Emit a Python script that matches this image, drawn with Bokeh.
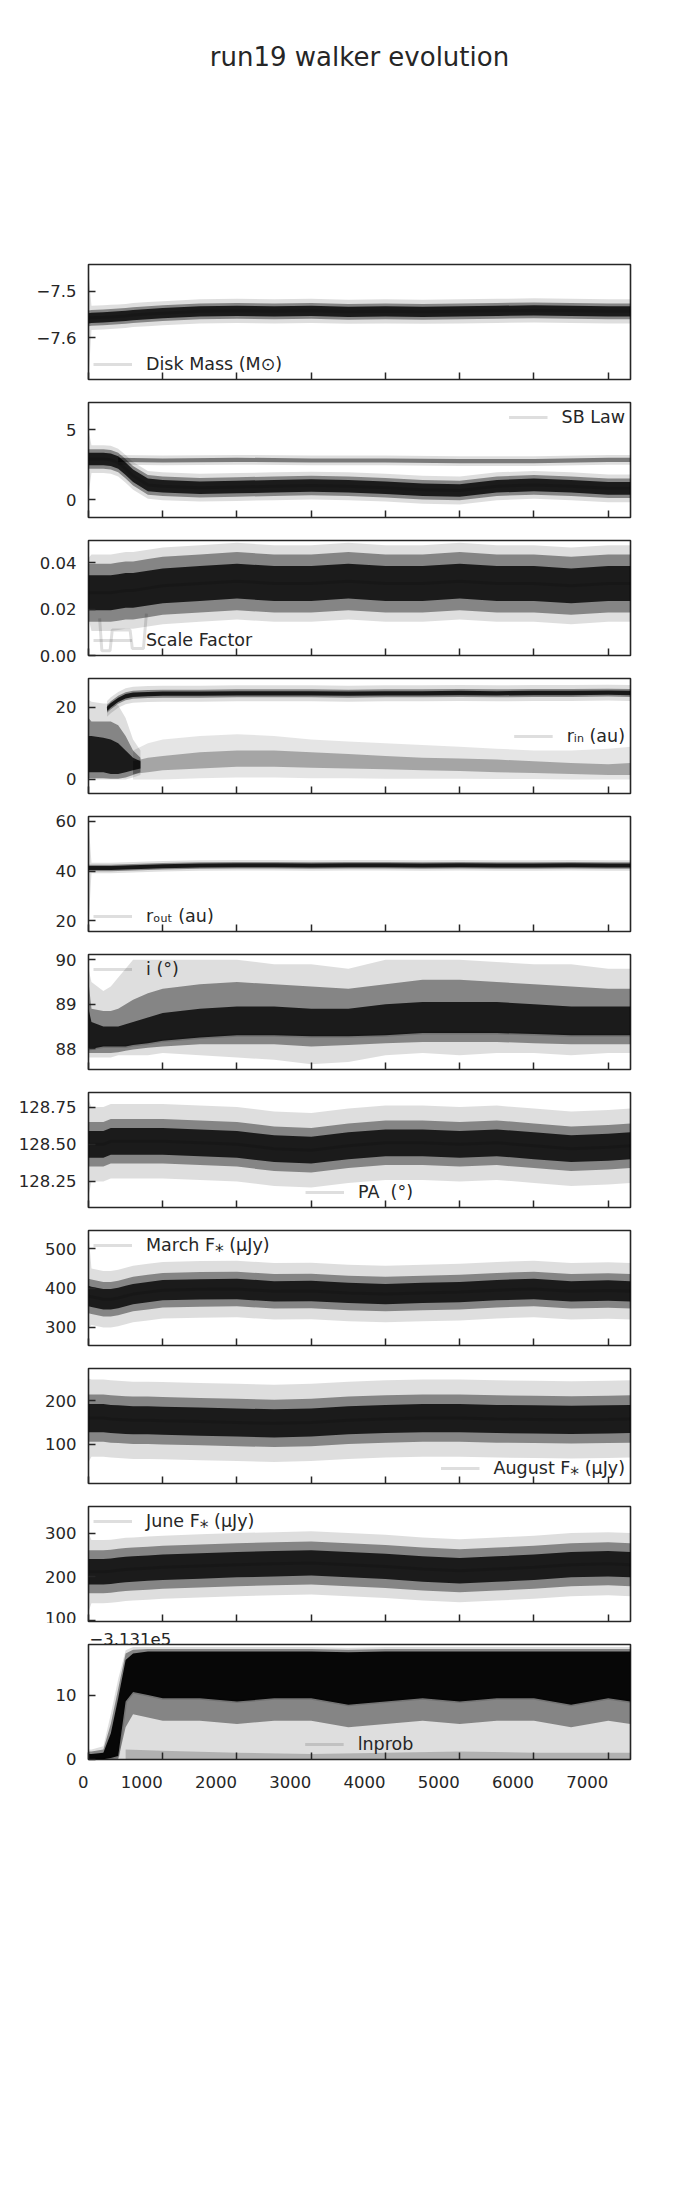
from bokeh.plotting import figure
from bokeh.models import Range1d, FixedTicker, Legend, LegendItem
from bokeh.layouts import column
from bokeh.embed import file_html
from bokeh.resources import INLINE

# ---------------- data ----------------
TITLE = "run19 walker evolution"
STEPS = [0, 40, 200, 300, 400, 500, 600, 800, 1000, 1500, 2000, 2500,
         3000, 3500, 4000, 4500, 5000, 5500, 6000, 6500, 7000, 7300]
X_TICKS = [0, 1000, 2000, 3000, 4000, 5000, 6000, 7000]
X_END = 7300

# Disk mass
DISK_LABEL = "Disk Mass (M\u2299)"
DISK_YLIM = [-7.690, -7.442]
DISK_TICKS = [-7.6, -7.5]
DISK_TICK_LABELS = ["\u22127.6", "\u22127.5"]
DISK_MID = [-7.558, -7.557, -7.556, -7.555, -7.554, -7.553, -7.551, -7.549, -7.547, -7.543, -7.542,
            -7.543, -7.542, -7.544, -7.543, -7.544, -7.543, -7.542, -7.541, -7.542, -7.543, -7.543]
DISK_HALF = [0.011, 0.017, 0.026]
DISK_INIT = [-7.69, -7.46]

# SB law (two groups)
SB_LABEL = "SB Law"
SB_YLIM = [-1.29, 6.96]
SB_TICKS = [0, 5]
SB_TICK_LABELS = ["0", "5"]
SB_B_MID = [2.9, 2.9, 2.9, 2.85, 2.65, 2.2, 1.7, 1.05, 0.95, 0.85, 0.9, 0.95,
            1.0, 0.95, 0.85, 0.7, 0.65, 0.95, 1.05, 0.95, 0.8, 0.8]
SB_B_HALF = [0.45, 0.7, 1.0]
SB_INIT = [0.3, 5.0]
SB_A_STEPS = [400, 1000, 2000, 3000, 4000, 5000, 6000, 7000, 7300]
SB_A_MID = [2.85, 2.8, 2.85, 2.8, 2.8, 2.75, 2.75, 2.85, 2.85]
SB_A_HALF = [0.15, 0.35]

# Scale factor
SCALE_LABEL = "Scale Factor"
SCALE_YLIM = [0.0, 0.0495]
SCALE_TICKS = [0.0, 0.02, 0.04]
SCALE_TICK_LABELS = ["0.00", "0.02", "0.04"]
SCALE_MID = [0.027, 0.027, 0.027, 0.027, 0.0275, 0.028, 0.028, 0.029, 0.030, 0.031, 0.032,
             0.031, 0.031, 0.032, 0.031, 0.031, 0.032, 0.031, 0.031, 0.030, 0.031, 0.031]
SCALE_HALF = [0.0075, 0.0125, 0.0165]
SCALE_INIT = [0.016, 0.042]
SCALE_OUT_STEPS = [150, 180, 290, 320, 560, 590, 740, 780]
SCALE_OUT = [0.016, 0.002, 0.002, 0.011, 0.011, 0.003, 0.003, 0.018]

# r_in (early blob, upper group, lower group)
RIN_LABEL = "r\u1d62\u2099 (au)"
RIN_YLIM = [-3.9, 27.9]
RIN_TICKS = [0, 20]
RIN_TICK_LABELS = ["0", "20"]
RIN_E_STEPS = [0, 40, 200, 300, 400, 500, 600, 700]
RIN_E_CORE_LO = [2, 2, 2, 1.5, 1.5, 2, 2.5, 3]
RIN_E_CORE_HI = [12, 12, 11.5, 11, 10, 8, 6, 5]
RIN_E_MID_LO = [0.3, 0.3, 0.3, 0.2, 0.2, 0.5, 1.2, 2]
RIN_E_MID_HI = [17, 16, 16, 16, 15, 12, 8, 6]
RIN_E_OUT_LO = [0, 0, 0, 0, 0, 0, 0.5, 1.2]
RIN_E_OUT_HI = [22, 21.5, 21, 21, 20.5, 17, 11, 8]
RIN_U_STEPS = [250, 300, 400, 500, 600, 800, 1000, 1500, 2000, 2500, 3000,
               3500, 4000, 4500, 5000, 5500, 6000, 6500, 7000, 7300]
RIN_U_MID = [19.5, 20.5, 22.0, 23.0, 23.4, 23.6, 23.7, 23.7, 23.8, 23.8, 23.8,
             23.7, 23.8, 23.8, 23.9, 23.8, 23.9, 23.9, 24.0, 23.9]
RIN_U_HALF = [0.6, 1.1, 2.2]
RIN_L_STEPS = [600, 800, 1000, 1500, 2000, 2500, 3000, 3500, 4000, 4500, 5000,
               5500, 6000, 6500, 7000, 7300]
RIN_L_CORE_LO = [1.5, 2, 2.5, 3, 3.5, 3.5, 3.2, 3, 2.8, 2.5, 2.3, 2, 1.8, 1.5, 1.2, 1.2]
RIN_L_CORE_HI = [5, 6, 6.5, 7.5, 8, 8, 7.5, 7, 6.5, 6, 5.8, 5.5, 5, 4.5, 4.2, 4.5]
RIN_L_OUT_LO = [0, 0, 0, 0.3, 0.5, 0.5, 0.3, 0.3, 0.2, 0.2, 0.2, 0.1, 0.1, 0, 0, 0]
RIN_L_OUT_HI = [8, 10, 11, 12, 12.5, 12, 11, 10.5, 10, 9.5, 9, 8.5, 8, 8, 8.5, 9]

# r_out
ROUT_LABEL = "r\u2092\u1d64\u209c (au)"
ROUT_YLIM = [15.7, 62.0]
ROUT_TICKS = [20, 40, 60]
ROUT_TICK_LABELS = ["20", "40", "60"]
ROUT_MID = [41.3, 41.3, 41.3, 41.3, 41.4, 41.5, 41.6, 41.8, 42.0, 42.3, 42.4,
            42.4, 42.3, 42.4, 42.4, 42.3, 42.4, 42.3, 42.3, 42.4, 42.3, 42.3]
ROUT_HALF = [0.8, 1.3, 2.1]
ROUT_INIT = [18, 60]

# inclination
INC_LABEL = "i (\u00b0)"
INC_YLIM = [87.53, 90.12]
INC_TICKS = [88, 89, 90]
INC_TICK_LABELS = ["88", "89", "90"]
INC_CORE_LO = [88.0, 88.0, 88.05, 88.05, 88.05, 88.05, 88.08, 88.12, 88.18, 88.25, 88.3,
               88.3, 88.28, 88.28, 88.3, 88.35, 88.35, 88.35, 88.33, 88.3, 88.3, 88.3]
INC_CORE_HI = [88.9, 88.6, 88.5, 88.5, 88.5, 88.55, 88.6, 88.7, 88.8, 88.9, 88.95,
               88.95, 88.9, 88.9, 89.0, 89.05, 89.05, 89.05, 89.0, 88.95, 88.95, 88.95]
INC_MID_LO = [87.9, 87.9, 87.9, 87.9, 87.92, 87.95, 87.98, 88.02, 88.05, 88.1, 88.1,
              88.1, 88.05, 88.08, 88.12, 88.15, 88.15, 88.15, 88.12, 88.1, 88.1, 88.1]
INC_MID_HI = [89.5, 88.9, 88.85, 88.85, 88.9, 89.0, 89.1, 89.25, 89.35, 89.45, 89.5,
              89.45, 89.4, 89.35, 89.45, 89.55, 89.55, 89.5, 89.45, 89.4, 89.35, 89.35]
INC_OUT_LO = [87.8, 87.8, 87.8, 87.8, 87.85, 87.85, 87.85, 87.85, 87.9, 87.85, 87.8,
              87.75, 87.65, 87.7, 87.85, 87.9, 87.85, 87.9, 87.9, 87.85, 87.9, 87.9]
INC_OUT_HI = [89.8, 89.5, 89.3, 89.4, 89.6, 89.8, 90.0, 90.0, 90.0, 90.0, 90.0,
              89.9, 89.9, 89.8, 90.0, 90.0, 90.0, 89.95, 89.9, 89.9, 89.8, 89.8]

# position angle
PA_LABEL = "PA  (\u00b0)"
PA_YLIM = [128.075, 128.848]
PA_TICKS = [128.25, 128.5, 128.75]
PA_TICK_LABELS = ["128.25", "128.50", "128.75"]
PA_MID = [128.50, 128.50, 128.50, 128.52, 128.52, 128.52, 128.52, 128.52, 128.52, 128.51, 128.50,
          128.47, 128.46, 128.49, 128.51, 128.51, 128.50, 128.51, 128.49, 128.47, 128.48, 128.49]
PA_HALF = [0.09, 0.15, 0.25]
PA_INIT = [128.15, 128.8]

# stellar fluxes
MAR_LABEL = "March F\u204e (\u03bcJy)"
MAR_YLIM = [254.0, 547.0]
MAR_TICKS = [300, 400, 500]
MAR_TICK_LABELS = ["300", "400", "500"]
MAR_MID = [380, 378, 372, 372, 375, 380, 385, 390, 395, 397, 398,
           392, 393, 388, 385, 388, 390, 395, 398, 392, 394, 392]
MAR_HALF = [26, 44, 72]
MAR_INIT = [300, 540]

AUG_LABEL = "August F\u204e (\u03bcJy)"
AUG_YLIM = [11.0, 273.0]
AUG_TICKS = [100, 200]
AUG_TICK_LABELS = ["100", "200"]
AUG_MID = [160, 160, 160, 158, 157, 156, 155, 155, 154, 152, 150,
           148, 150, 155, 158, 160, 160, 158, 157, 156, 157, 158]
AUG_HALF = [32, 54, 88]
AUG_INIT = [60, 250]

JUN_LABEL = "June F\u204e (\u03bcJy)"
JUN_YLIM = [98.4, 360.5]
JUN_TICKS = [100, 200, 300]
JUN_TICK_LABELS = ["100", "200", "300"]
JUN_MID = [212, 212, 212, 213, 215, 217, 218, 220, 222, 225, 228,
           230, 232, 228, 224, 218, 214, 218, 222, 228, 230, 228]
JUN_HALF = [29, 49, 72]
JUN_INIT = [120, 300]

# ln probability, relative to the offset -3.131e5
LN_LABEL = "lnprob"
LN_OFFSET_TEXT = "\u22123.131e5"
LN_YLIM = [-0.05, 17.9]
LN_TICKS = [0, 10]
LN_TICK_LABELS = ["0", "10"]
LN_CORE_LO = [0.0, 0.0, 0.0, 0.2, 0.5, 9.0, 10.5, 10.0, 9.5, 9.5, 9.0,
              9.5, 9.5, 8.5, 9.0, 9.5, 9.0, 9.5, 9.5, 8.5, 9.5, 9.0]
LN_CORE_HI = [0.8, 0.8, 1.0, 4.0, 9.5, 15.5, 16.5, 16.8, 16.8, 16.8, 16.8,
              16.8, 16.8, 16.7, 16.8, 16.8, 16.8, 16.8, 16.8, 16.8, 16.8, 16.8]
LN_MID_LO = [0.0, 0.0, 0.0, 0.0, 0.0, 5.0, 7.0, 6.5, 6.0, 6.0, 5.5,
             6.0, 6.0, 5.0, 5.5, 6.0, 5.5, 6.0, 6.0, 5.0, 6.0, 5.5]
LN_MID_HI = [1.2, 1.2, 1.5, 5.5, 11.0, 16.5, 17.1, 17.2, 17.2, 17.2, 17.2,
             17.2, 17.2, 17.1, 17.2, 17.2, 17.2, 17.2, 17.2, 17.2, 17.2, 17.2]
LN_OUT_LO = [0.0] * 22
LN_OUT_HI = [1.5, 1.5, 2.0, 7.0, 12.5, 17.0, 17.5, 17.5, 17.5, 17.5, 17.5,
             17.5, 17.5, 17.4, 17.5, 17.5, 17.5, 17.5, 17.5, 17.5, 17.5, 17.5]
LN_LOW_STEPS = [500, 1000, 2000, 3000, 4000, 5000, 6000, 7300]
LN_LOW_HI = [1.5, 1.3, 1.0, 0.8, 1.0, 1.2, 1.0, 1.0]

# ---------------- styling ----------------
FONT = "DejaVu Sans"
INK = "#262626"
ALPHAS = [0.13, 0.4, 0.8]   # outer, middle, core
FRAME_W, FRAME_H = 542, 115
LEFT, RIGHT = 88, 62


def make_panel(ylim, yticks, ylabels, top, bottom, show_x=False):
    p = figure(frame_width=FRAME_W, frame_height=FRAME_H,
               x_range=Range1d(0, X_END), y_range=Range1d(ylim[0], ylim[1]),
               output_backend="svg", toolbar_location=None,
               min_border_left=LEFT, min_border_right=RIGHT,
               min_border_top=top, min_border_bottom=bottom)
    p.xgrid.visible = False
    p.ygrid.visible = False
    p.outline_line_color = INK
    p.outline_line_width = 1.6
    p.outline_line_alpha = 1.0
    p.xaxis.ticker = FixedTicker(ticks=X_TICKS)
    p.yaxis.ticker = FixedTicker(ticks=yticks)
    p.yaxis.major_label_overrides = dict(zip(yticks, ylabels))
    for ax in list(p.xaxis) + list(p.yaxis):
        ax.axis_line_color = None
        ax.major_tick_in = 7
        ax.major_tick_out = 0
        ax.minor_tick_line_color = None
        ax.major_tick_line_color = INK
        ax.major_tick_line_width = 1.5
        ax.major_label_text_font = FONT
        ax.major_label_text_font_size = "16.5px"
        ax.major_label_text_color = INK
    p.yaxis.major_label_standoff = 12
    if show_x:
        # matplotlib labels here are right-aligned on their ticks
        p.xaxis.major_label_overrides = {t: str(t) + "\u2007" * len(str(t)) for t in X_TICKS}
        p.xaxis.major_label_standoff = 13
    else:
        p.xaxis.major_label_text_color = None
        p.xaxis.major_label_text_alpha = 0
        p.xaxis.major_label_text_font_size = "1px"
        p.xaxis.major_label_standoff = 0
    return p


def band(p, xs, lo, hi, alpha):
    return p.varea(x=xs, y1=lo, y2=hi, fill_color="black", fill_alpha=alpha)


def sym_bands(p, xs, mid, half, init=None, alphas=ALPHAS):
    # half = [core, middle, outer] half-widths; widest drawn first, lightest
    n = len(half)
    for j in range(n - 1, -1, -1):
        w = half[j]
        lo = [m - w for m in mid]
        hi = [m + w for m in mid]
        if init is not None and j == n - 1:
            lo[0], hi[0] = init[0], init[1]
        band(p, xs, lo, hi, alphas[n - 1 - j])


def add_legend(p, xs, ys, label, loc):
    r = p.line(xs, ys, line_color="black", line_alpha=0.13, line_width=3)
    leg = Legend(items=[LegendItem(label=label, renderers=[r])], location=loc,
                 border_line_color=None, background_fill_alpha=0,
                 margin=5, padding=10, spacing=0, glyph_width=39, glyph_height=20,
                 label_standoff=14, label_height=20,
                 label_text_font=FONT, label_text_font_size="17.5px", label_text_color=INK)
    p.add_layout(leg)


# ---------------- header ----------------
head = figure(width=LEFT + FRAME_W + RIGHT, height=108, x_axis_type=None, y_axis_type=None,
              toolbar_location=None, output_backend="svg",
              min_border_left=0, min_border_right=0, min_border_top=71, min_border_bottom=0,
              outline_line_color=None, title=TITLE)
head.title.align = "center"
head.title.text_font = FONT
head.title.text_font_size = "26px"
head.title.text_font_style = "normal"
head.title.text_color = INK
head.title.standoff = 0

panels = []

# 1 disk mass
p = make_panel(DISK_YLIM, DISK_TICKS, DISK_TICK_LABELS, 156, 12)
sym_bands(p, STEPS, DISK_MID, DISK_HALF, DISK_INIT)
add_legend(p, STEPS, DISK_MID, DISK_LABEL, "bottom_left")
panels.append(p)

# 2 SB law
p = make_panel(SB_YLIM, SB_TICKS, SB_TICK_LABELS, 11, 12)
sym_bands(p, SB_A_STEPS, SB_A_MID, SB_A_HALF, None, alphas=[0.13, 0.45])
sym_bands(p, STEPS, SB_B_MID, SB_B_HALF, SB_INIT)
add_legend(p, STEPS, SB_B_MID, SB_LABEL, "top_right")
panels.append(p)

# 3 scale factor
p = make_panel(SCALE_YLIM, SCALE_TICKS, SCALE_TICK_LABELS, 11, 12)
p.line(SCALE_OUT_STEPS, SCALE_OUT, line_color="black", line_alpha=0.13, line_width=3)
sym_bands(p, STEPS, SCALE_MID, SCALE_HALF, SCALE_INIT)
add_legend(p, STEPS, SCALE_MID, SCALE_LABEL, "bottom_left")
panels.append(p)

# 4 r_in
p = make_panel(RIN_YLIM, RIN_TICKS, RIN_TICK_LABELS, 11, 12)
band(p, RIN_L_STEPS, RIN_L_OUT_LO, RIN_L_OUT_HI, 0.1)
band(p, RIN_L_STEPS, RIN_L_CORE_LO, RIN_L_CORE_HI, 0.28)
band(p, RIN_E_STEPS, RIN_E_OUT_LO, RIN_E_OUT_HI, 0.13)
band(p, RIN_E_STEPS, RIN_E_MID_LO, RIN_E_MID_HI, 0.4)
band(p, RIN_E_STEPS, RIN_E_CORE_LO, RIN_E_CORE_HI, 0.8)
sym_bands(p, RIN_U_STEPS, RIN_U_MID, RIN_U_HALF)
add_legend(p, RIN_U_STEPS, RIN_U_MID, RIN_LABEL, "center_right")
panels.append(p)

# 5 r_out
p = make_panel(ROUT_YLIM, ROUT_TICKS, ROUT_TICK_LABELS, 11, 12)
sym_bands(p, STEPS, ROUT_MID, ROUT_HALF, ROUT_INIT)
add_legend(p, STEPS, ROUT_MID, ROUT_LABEL, "bottom_left")
panels.append(p)

# 6 inclination
p = make_panel(INC_YLIM, INC_TICKS, INC_TICK_LABELS, 11, 12)
band(p, STEPS, INC_OUT_LO, INC_OUT_HI, ALPHAS[0])
band(p, STEPS, INC_MID_LO, INC_MID_HI, ALPHAS[1])
band(p, STEPS, INC_CORE_LO, INC_CORE_HI, ALPHAS[2])
add_legend(p, STEPS, INC_CORE_LO, INC_LABEL, "top_left")
panels.append(p)

# 7 PA
p = make_panel(PA_YLIM, PA_TICKS, PA_TICK_LABELS, 11, 12)
sym_bands(p, STEPS, PA_MID, PA_HALF, PA_INIT)
add_legend(p, STEPS, PA_MID, PA_LABEL, "bottom_center")
panels.append(p)

# 8 March
p = make_panel(MAR_YLIM, MAR_TICKS, MAR_TICK_LABELS, 11, 12)
sym_bands(p, STEPS, MAR_MID, MAR_HALF, MAR_INIT)
add_legend(p, STEPS, MAR_MID, MAR_LABEL, "top_left")
panels.append(p)

# 9 August
p = make_panel(AUG_YLIM, AUG_TICKS, AUG_TICK_LABELS, 11, 12)
sym_bands(p, STEPS, AUG_MID, AUG_HALF, AUG_INIT)
add_legend(p, STEPS, AUG_MID, AUG_LABEL, "bottom_right")
panels.append(p)

# 10 June
p = make_panel(JUN_YLIM, JUN_TICKS, JUN_TICK_LABELS, 11, 2)
sym_bands(p, STEPS, JUN_MID, JUN_HALF, JUN_INIT)
add_legend(p, STEPS, JUN_MID, JUN_LABEL, "top_left")
panels.append(p)

# 11 lnprob
p = make_panel(LN_YLIM, LN_TICKS, LN_TICK_LABELS, 21, 40, show_x=True)
p.title.text = LN_OFFSET_TEXT
p.title.align = "left"
p.title.text_font = FONT
p.title.text_font_size = "16.5px"
p.title.text_font_style = "normal"
p.title.text_color = INK
p.title.standoff = 0
p.title.offset = 1
band(p, STEPS, LN_OUT_LO, LN_OUT_HI, ALPHAS[0])
band(p, LN_LOW_STEPS, [0.0] * len(LN_LOW_STEPS), LN_LOW_HI, 0.2)
band(p, STEPS, LN_MID_LO, LN_MID_HI, ALPHAS[1])
band(p, STEPS, LN_CORE_LO, LN_CORE_HI, ALPHAS[2] + 0.15)
add_legend(p, STEPS, LN_CORE_LO, LN_LABEL, "bottom_center")
panels.append(p)

layout = column(head, *panels)
open("out.html", "w").write(file_html(layout, INLINE, TITLE))
